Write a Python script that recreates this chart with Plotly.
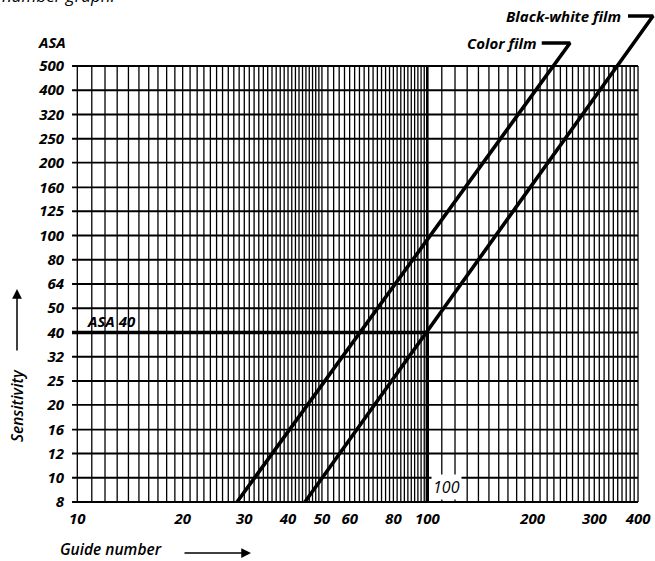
import math
import plotly.graph_objects as go

# ---------------- data ----------------
gn_tick_vals = [10, 20, 30, 40, 50, 60, 80, 100, 200, 300, 400]
gn_tick_text = ["10", "20", "30", "40", "50", "60", "80", "100", "200", "300", "400"]

asa_labels = ["8", "10", "12", "16", "20", "25", "32", "40", "50", "64", "80",
              "100", "125", "160", "200", "250", "320", "400", "500"]
# exact 1/3-stop positions belonging to the nominal ASA labels
asa_exact = [7.94, 10, 12.6, 15.8, 20, 25.1, 31.6, 39.8, 50.1, 63.1, 79.4,
             100, 126, 158, 200, 251, 316, 398, 501]

# vertical rulings of the guide-number paper
gn_grid = list(range(10, 50)) + list(range(50, 100, 2)) + list(range(100, 401, 10))
gn_stub = 9.66  # horizontal rulings start slightly left of 10

# film lines (bottom point, hook corner, hook end)
color_gn = [28.6, 255.7, 212.3]
color_asa = [7.94, 624, 624]
bw_gn = [44.7, 441.5, 374.5]
bw_asa = [7.94, 806.5, 806.5]

# worked example: ASA 40 -> guide number 100
ex_gn = [gn_stub, 100, 100]
ex_asa = [39.8, 39.8, 7.94]

# ---------------- figure ----------------
W, H = 655, 561
L, R, T, B = 71, 0, 0, 56
FONT = "Open Sans"

fig = go.Figure()

# vertical grid
vx, vy = [], []
for g in gn_grid:
    vx += [g, g, None]
    vy += [asa_exact[0], asa_exact[-1], None]
fig.add_trace(go.Scatter(x=vx, y=vy, mode="lines",
                         line=dict(color="black", width=1.3),
                         hoverinfo="skip", showlegend=False))
# horizontal grid
hx, hy = [], []
for a in asa_exact:
    hx += [gn_stub, gn_grid[-1], None]
    hy += [a, a, None]
fig.add_trace(go.Scatter(x=hx, y=hy, mode="lines",
                         line=dict(color="black", width=1.9),
                         hoverinfo="skip", showlegend=False))
# heavier 100 ruling
fig.add_trace(go.Scatter(x=[100, 100], y=[asa_exact[0], asa_exact[-1]], mode="lines",
                         line=dict(color="black", width=2.6),
                         hoverinfo="skip", showlegend=False))
# example lines
fig.add_trace(go.Scatter(x=ex_gn, y=ex_asa, mode="lines",
                         line=dict(color="black", width=3.4),
                         hoverinfo="skip", showlegend=False))
# film lines
fig.add_trace(go.Scatter(x=color_gn, y=color_asa, mode="lines", name="Color film",
                         line=dict(color="black", width=3.6), showlegend=False))
fig.add_trace(go.Scatter(x=bw_gn, y=bw_asa, mode="lines", name="Black-white film",
                         line=dict(color="black", width=3.6), showlegend=False))

plot_w = W - L - R
plot_h = H - T - B
x_lo = math.log10(10) - (77.3 - L) / 350.0
x_hi = x_lo + plot_w / 350.0
y_px_dec = 242.2
y_lo = math.log10(asa_exact[0]) - 3 / y_px_dec
y_hi = y_lo + plot_h / y_px_dec

tickfont = dict(family=FONT, size=15, color="black", weight="bold", style="italic")

fig.update_xaxes(type="log", range=[x_lo, x_hi], tickvals=gn_tick_vals, ticktext=gn_tick_text,
                 showgrid=False, zeroline=False, showline=False, ticks="",
                 tickfont=tickfont, ticklabelstandoff=3)
fig.update_yaxes(type="log", range=[y_lo, y_hi], tickvals=asa_exact, ticktext=asa_labels,
                 showgrid=False, zeroline=False, showline=False, ticks="",
                 tickfont=tickfont, ticklabelstandoff=6)

lblfont = dict(family=FONT, size=15, color="black", weight="bold", style="italic")
ann = []
ann.append(dict(x=math.log10(10.5), y=math.log10(39.8), xref="x", yref="y", text="ASA 40",
                showarrow=False, xanchor="left", yanchor="bottom", yshift=-1, font=lblfont))
ann.append(dict(x=math.log10(100), y=math.log10(asa_exact[0]), xref="x", yref="y", text="100",
                showarrow=False, xanchor="left", yanchor="bottom", xshift=4, yshift=2,
                bgcolor="white", borderpad=1,
                font=dict(family=FONT, size=16, color="black", style="italic")))
ann.append(dict(x=math.log10(color_gn[2]), y=math.log10(color_asa[2]), xref="x", yref="y",
                text="Color film", showarrow=False, xanchor="right", yanchor="middle",
                xshift=-4, font=lblfont))
ann.append(dict(x=math.log10(bw_gn[2]), y=math.log10(bw_asa[2]), xref="x", yref="y",
                text="Black-white film", showarrow=False, xanchor="right", yanchor="middle",
                xshift=-5, font=lblfont))
ann.append(dict(x=0, y=math.log10(631), xref="paper", yref="y", text="ASA",
                showarrow=False, xanchor="right", yanchor="middle", xshift=-3, font=tickfont))

titlefont = dict(family=FONT, size=15.5, color="black", weight=600, style="italic")
# x-axis title with arrow
ann.append(dict(x=(59 - L) / plot_w, y=-(549 - plot_h) / plot_h, xref="paper", yref="paper",
                text="Guide number", showarrow=False, xanchor="left", yanchor="middle",
                borderpad=0, font=titlefont))
ann.append(dict(x=(251 - L) / plot_w, y=-(553 - plot_h) / plot_h, xref="paper", yref="paper",
                ax=-68, ay=0, text="", showarrow=True, arrowhead=2, arrowsize=1.3,
                arrowwidth=1.5, arrowcolor="black"))
# y-axis title with arrow
ann.append(dict(x=(17 - L) / plot_w, y=(plot_h - 406) / plot_h, xref="paper", yref="paper",
                text="Sensitivity", showarrow=False, textangle=-90, xanchor="center",
                yanchor="middle", font=titlefont))
ann.append(dict(x=(17 - L) / plot_w, y=(plot_h - 289) / plot_h, xref="paper", yref="paper",
                ax=0, ay=63, text="", showarrow=True, arrowhead=2, arrowsize=1.3,
                arrowwidth=1.5, arrowcolor="black"))
# caption fragment cut by the top edge of the reference
ann.append(dict(x=(0 - L) / plot_w, y=(plot_h - 9) / plot_h, xref="paper", yref="paper",
                text="number graph.", showarrow=False, xanchor="left", yanchor="bottom",
                font=dict(family=FONT, size=17, color="black", style="italic")))

fig.update_layout(width=W, height=H, margin=dict(l=L, r=R, t=T, b=B, autoexpand=False),
                  paper_bgcolor="white", plot_bgcolor="white", annotations=ann,
                  showlegend=False)

fig.write_html("out.html", config={"displayModeBar": False},
               post_script="document.body.style.margin='0';document.body.style.overflow='hidden';")
